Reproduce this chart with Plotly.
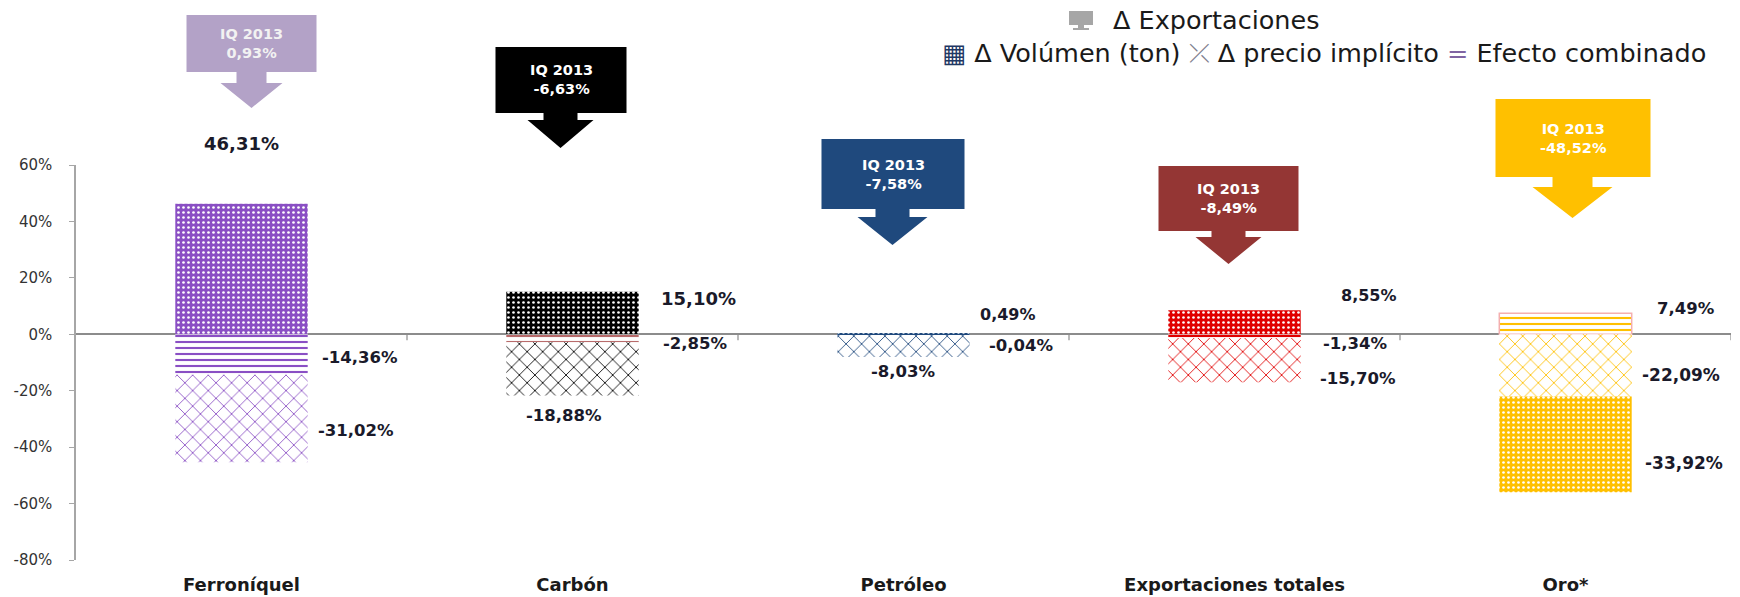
import plotly.graph_objects as go

# ---------------- data ----------------
categories = ["Ferroníquel", "Carbón", "Petróleo", "Exportaciones totales", "Oro*"]
combined = [-14.36, -2.85, -0.04, -1.34, 7.49]      # Efecto combinado
price = [-31.02, -18.88, -8.03, -15.70, -22.09]     # Δ precio implícito
volume = [46.31, 15.10, 0.49, 8.55, -33.92]         # Δ Volúmen (ton)
exports_q = [0.93, -6.63, -7.58, -8.49, -48.52]     # Δ Exportaciones IQ 2013
callout_title = "IQ 2013"
y_tick_vals = [-80, -60, -40, -20, 0, 20, 40, 60]
y_tick_text = ["-80%", "-60%", "-40%", "-20%", "0%", "20%", "40%", "60%"]

# ---------------- styles ----------------
base_colors = ["#8A4FC4", "#000000", "#1F497D", "#E00000", "#FFC000"]
comb_colors = ["#8A4FC4", "#B86B6B", "#1F497D", "#E00000", "#FFC000"]
box_colors = ["#B3A2C7", "#000000", "#1F497D", "#943634", "#FFC000"]
box_text_colors = ["#F2F2F2", "#FFFFFF", "#FFFFFF", "#FFFFFF", "#FFFFFF"]
dot_colors = ["#FFFFFF"] * 5

W, H = 1740, 597
L, R, T, B = 76, 9, 165, 37
PW, PH = W - L - R, H - T - B
Y_MIN, Y_MAX = -80, 60


def px_x(px):
    return (px - L) / PW


def px_y(py):
    return (H - B - py) / PH


def val_y(v):
    return (v - Y_MIN) / (Y_MAX - Y_MIN)


def cat_px(i):
    return L + (i + 0.5) / len(categories) * PW


def fmt(v):
    return f"{v:.2f}".replace(".", ",") + "%"


fig = go.Figure()

fig.add_trace(go.Bar(
    x=categories, y=combined, name="Efecto combinado", width=0.4,
    marker=dict(color="white",
                line=dict(color=["rgba(0,0,0,0)"] * 4 + ["#F4AFAF"], width=[0, 0, 0, 0, 1.5]),
                pattern=dict(shape="-", fgcolor=comb_colors, bgcolor="white",
                             size=6, solidity=0.35, fillmode="replace")),
    showlegend=False, hoverinfo="skip"))

fig.add_trace(go.Bar(
    x=categories, y=price, name="Δ precio implícito", width=0.4,
    marker=dict(color="white", line=dict(width=0),
                pattern=dict(shape="x", fgcolor=base_colors, bgcolor="white",
                             size=11, solidity=0.15, fillmode="replace")),
    showlegend=False, hoverinfo="skip"))

# marker.color kept scalar so the per-bar pattern colours are honoured
fig.add_trace(go.Bar(
    x=categories, y=volume, name="Δ Volúmen (ton)", width=0.4,
    marker=dict(color="white", line=dict(width=0),
                pattern=dict(shape=".", fgcolor=dot_colors, bgcolor=base_colors,
                             size=5, solidity=0.22, fillmode="replace")),
    showlegend=False, hoverinfo="skip"))

# ---------------- data labels ----------------
# (xanchor, x shift px from category centre, label height in data units, font size)
vol_lab = [("center", 0, 67.5, 18), ("left", 86, 12.8, 18), ("left", 75, 7.1, 16),
           ("left", 104, 13.9, 16), ("left", 77, -45.5, 17)]
comb_lab = [("left", 78, -8.2, 16.5), ("left", 88, -3.2, 16.5), ("left", 83, -3.9, 16.5),
            ("left", 86, -3.2, 16.5), ("left", 89, 9.2, 16.5)]
price_lab = [("left", 74, -34.1, 16.5), ("center", -9, -28.8, 16.5), ("center", 0, -13.1, 16.5),
             ("left", 83, -15.6, 16.5), ("left", 74, -14.6, 17)]

annotations = []
for series, labs in ((volume, vol_lab), (combined, comb_lab), (price, price_lab)):
    for i, (v, (xa, xs, yv, fs)) in enumerate(zip(series, labs)):
        annotations.append(dict(
            x=px_x(cat_px(i) + xs), y=val_y(yv), xref="paper", yref="paper",
            text=fmt(v), showarrow=False, xanchor=xa, yanchor="middle",
            font=dict(family="DejaVu Sans", size=fs, color="#1A1A2A", weight="bold")))

# ---------------- callouts ----------------
callouts = [
    dict(bx0=-55, bx1=75, by0=15, by1=72, ax=10, shw=15, sy=83, hhw=31, tip=108),
    dict(bx0=-77, bx1=54, by0=47, by1=113, ax=-12, shw=17, sy=120, hhw=33, tip=148),
    dict(bx0=-82, bx1=61, by0=139, by1=209, ax=-11, shw=17, sy=217, hhw=35, tip=245),
    dict(bx0=-76, bx1=64, by0=166, by1=231, ax=-6, shw=17, sy=237, hhw=33, tip=264),
    dict(bx0=-70, bx1=85, by0=99, by1=177, ax=7, shw=20, sy=187, hhw=40, tip=218),
]

shapes = []
for i, c in enumerate(callouts):
    cx = cat_px(i)
    pts = [
        (cx + c["bx0"], c["by0"]), (cx + c["bx1"], c["by0"]), (cx + c["bx1"], c["by1"]),
        (cx + c["ax"] + c["shw"], c["by1"]), (cx + c["ax"] + c["shw"], c["sy"]),
        (cx + c["ax"] + c["hhw"], c["sy"]), (cx + c["ax"], c["tip"]),
        (cx + c["ax"] - c["hhw"], c["sy"]), (cx + c["ax"] - c["shw"], c["sy"]),
        (cx + c["ax"] - c["shw"], c["by1"]), (cx + c["bx0"], c["by1"]),
    ]
    path = "M " + " L ".join(f"{px_x(x):.5f},{px_y(y):.5f}" for x, y in pts) + " Z"
    shapes.append(dict(type="path", path=path, xref="paper", yref="paper",
                       fillcolor=box_colors[i], line=dict(width=0), layer="above"))
    annotations.append(dict(
        x=px_x(cx + (c["bx0"] + c["bx1"]) / 2), y=px_y((c["by0"] + c["by1"]) / 2),
        xref="paper", yref="paper", showarrow=False, xanchor="center", yanchor="middle",
        text=f"{callout_title}<br>{fmt(exports_q[i])}",
        font=dict(family="DejaVu Sans", size=14.5, color=box_text_colors[i], weight="bold")))

# boundary ticks on the zero line
for k in range(1, len(categories) + 1):
    shapes.append(dict(type="line", xref="x", yref="y", x0=k - 0.5, x1=k - 0.5,
                       ysizemode="pixel", yanchor=0, y0=0, y1=-6,
                       line=dict(color="#8C8C8C", width=1.2)))

# ---------------- legend (drawn) ----------------
shapes += [
    dict(type="rect", xref="paper", yref="paper", x0=px_x(1069), x1=px_x(1093),
         y0=px_y(25), y1=px_y(11), fillcolor="#A6A6A6", line=dict(width=0)),
    dict(type="rect", xref="paper", yref="paper", x0=px_x(1078), x1=px_x(1084),
         y0=px_y(28), y1=px_y(25), fillcolor="#A6A6A6", line=dict(width=0)),
    dict(type="rect", xref="paper", yref="paper", x0=px_x(1073), x1=px_x(1089),
         y0=px_y(30), y1=px_y(28), fillcolor="#A6A6A6", line=dict(width=0)),
]
annotations.append(dict(
    x=px_x(1111), y=px_y(20), xref="paper", yref="paper", showarrow=False,
    xanchor="left", yanchor="middle", text="Δ Exportaciones",
    font=dict(family="DejaVu Sans", size=25.5, color="#1A1A1A")))
annotations.append(dict(
    x=px_x(1708), y=px_y(53), xref="paper", yref="paper", showarrow=False,
    xanchor="right", yanchor="middle",
    text=('<span style="color:#1F3864">▦</span> Δ Volúmen (ton) '
          '<span style="color:#7F7F8F">⤫</span> Δ precio implícito '
          '<span style="color:#8064A2">=</span> Efecto combinado'),
    font=dict(family="DejaVu Sans", size=25.5, color="#1A1A1A")))

fig.update_layout(
    width=W, height=H, barmode="relative",
    margin=dict(l=L, r=R, t=T, b=B, autoexpand=False),
    paper_bgcolor="white", plot_bgcolor="white",
    shapes=shapes, annotations=annotations,
    xaxis=dict(type="category", categoryarray=categories, range=[-0.5, 4.5],
               showline=False, showgrid=False, zeroline=False, ticks="",
               ticklabelstandoff=12,
               tickfont=dict(family="DejaVu Sans", size=18, color="#1A1A1A", weight="bold")),
    yaxis=dict(range=[Y_MIN, Y_MAX], tickvals=y_tick_vals, ticktext=y_tick_text,
               showgrid=False, showline=True, linecolor="#A6A6A6", linewidth=1.5,
               ticks="outside", ticklen=5, tickcolor="#A6A6A6", tickwidth=1.2,
               ticklabelstandoff=14,
               zeroline=True, zerolinecolor="#8C8C8C", zerolinewidth=1.5,
               tickfont=dict(family="DejaVu Sans", size=15, color="#333333")),
)

fig.write_html("out.html", config={"displayModeBar": False},
               post_script="document.body.style.margin='0';")
